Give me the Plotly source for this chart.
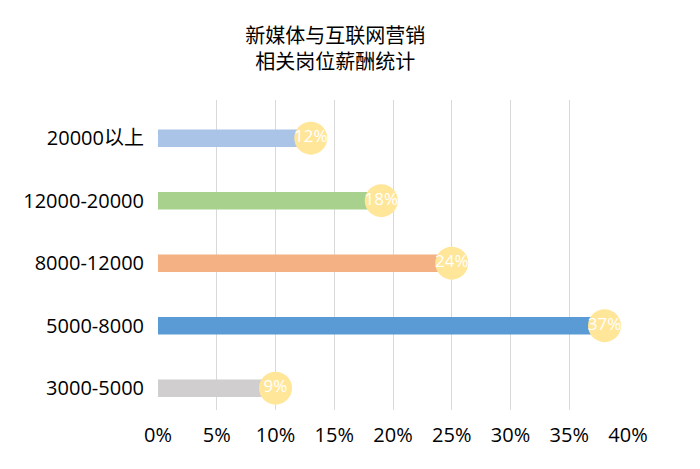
import plotly.graph_objects as go

categories = ["3000-5000", "5000-8000", "8000-12000", "12000-20000", "20000以上"]
values = [9, 37, 24, 18, 12]
colors = ["#D0CECE", "#5B9BD5", "#F4B183", "#A9D18E", "#A9C4E6"]
tick_vals = [0, 5, 10, 15, 20, 25, 30, 35, 40]
tick_text = [f"{v}%" for v in tick_vals]
title_lines = ["新媒体与互联网营销", "相关岗位薪酬统计"]

font_family = "Open Sans, Noto Sans CJK SC, sans-serif"
cjk_family = "Noto Sans CJK SC, sans-serif"

fig = go.Figure()
fig.add_trace(go.Bar(
    y=categories, x=values, orientation="h",
    marker=dict(color=colors, line=dict(width=0)),
    width=0.28, showlegend=False, hoverinfo="skip",
))
fig.add_trace(go.Scatter(
    y=categories, x=[v + 1 for v in values], mode="markers+text",
    marker=dict(size=33, color="#FFE699", line=dict(width=0)),
    text=[f"{v}%" for v in values], textposition="middle center",
    textfont=dict(color="white", size=17, family=font_family),
    showlegend=False, hoverinfo="skip", cliponaxis=False,
))

fig.update_layout(
    width=700, height=469,
    margin=dict(l=158, r=72, t=100, b=59),
    paper_bgcolor="white", plot_bgcolor="white",
    title=dict(text="<br>".join(title_lines), x=0.479, xanchor="center",
               y=0.909, yanchor="middle",
               font=dict(size=20, color="#000", family=cjk_family)),
    font=dict(family=font_family, color="#000"),
)
fig.update_xaxes(range=[0, 40], tickvals=tick_vals, ticktext=tick_text,
                 showgrid=True, gridcolor="#D9D9D9", gridwidth=1.3,
                 zeroline=False, showline=False, ticks="",
                 tickfont=dict(size=20, color="#000"), ticklabelstandoff=11)
fig.update_yaxes(range=[-0.35, 4.61], showgrid=False, zeroline=False,
                 showline=False, ticks="",
                 tickfont=dict(size=20, color="#000"), ticklabelstandoff=13)

fig.write_html("out.html")
